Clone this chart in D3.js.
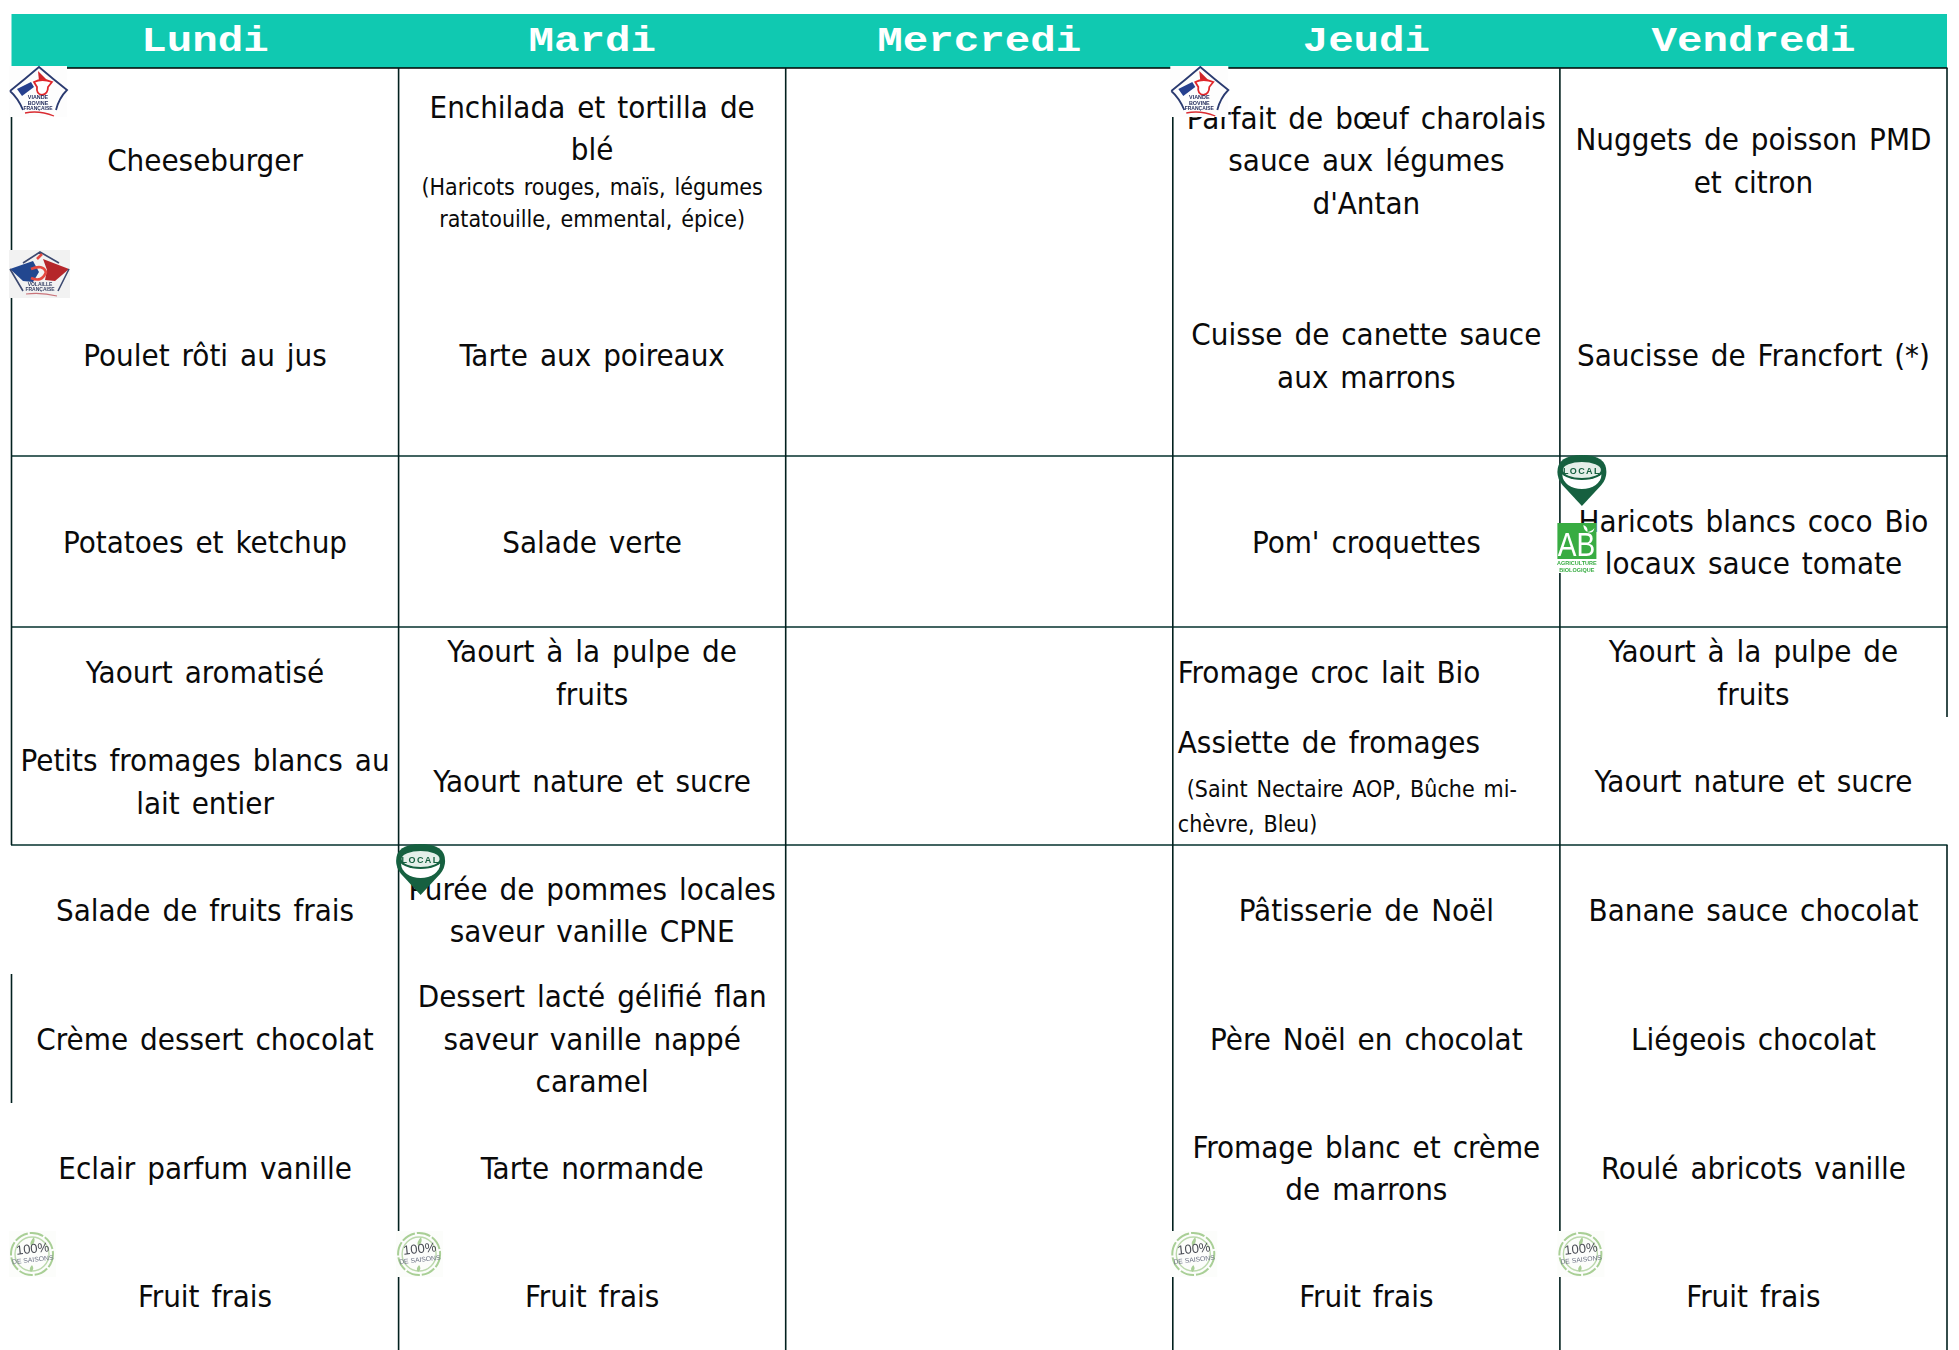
<!DOCTYPE html>
<html>
<head>
<meta charset="utf-8">
<title>Menu</title>
<script src="https://cdn.jsdelivr.net/npm/d3@7"></script>
<style>
  html, body { margin: 0; padding: 0; background: #fff; overflow: hidden; }
  svg { display: block; }
</style>
</head>
<body>
<div id="maincontent"></div>
<script>
// jours et lignes du menu
var jours = ["Lundi", "Mardi", "Mercredi", "Jeudi", "Vendredi"];
var creneaux = ["plat1", "plat2", "garniture", "laitage1", "laitage2", "dessert1", "dessert2", "dessert3", "dessert4"];

// "\n" = retour a la ligne, "|" = debut du texte en petit
var lundi = ["Cheeseburger", "Poulet rôti au jus", "Potatoes et ketchup", "Yaourt aromatisé",
  "Petits fromages blancs au\nlait entier", "Salade de fruits frais", "Crème dessert chocolat",
  "Eclair parfum vanille", "Fruit frais"];
var mardi = ["Enchilada et tortilla de\nblé|(Haricots rouges, maïs, légumes\nratatouille, emmental, épice)",
  "Tarte aux poireaux", "Salade verte", "Yaourt à la pulpe de\nfruits", "Yaourt nature et sucre",
  "Purée de pommes locales\nsaveur vanille CPNE", "Dessert lacté gélifié flan\nsaveur vanille nappé\ncaramel",
  "Tarte normande", "Fruit frais"];
var mercredi = ["", "", "", "", "", "", "", "", ""];
var jeudi = ["Parfait de bœuf charolais\nsauce aux légumes\nd'Antan", "Cuisse de canette sauce\naux marrons",
  "Pom' croquettes", "Fromage croc lait Bio",
  "Assiette de fromages|\u00a0(Saint Nectaire AOP, Bûche mi-\nchèvre, Bleu)",
  "Pâtisserie de Noël", "Père Noël en chocolat", "Fromage blanc et crème\nde marrons", "Fruit frais"];
var vendredi = ["Nuggets de poisson PMD\net citron", "Saucisse de Francfort (*)",
  "Haricots blancs coco Bio\nlocaux sauce tomate", "Yaourt à la pulpe de\nfruits", "Yaourt nature et sucre",
  "Banane sauce chocolat", "Liégeois chocolat", "Roulé abricots vanille", "Fruit frais"];

var menus = [lundi, mardi, mercredi, jeudi, vendredi];
var aGauche = ["Fromage croc lait Bio", "Assiette de fromages"];

// logos : jour, creneau, type
var logos = [
  ["Lundi", "plat1", "viande"], ["Jeudi", "plat1", "viande"], ["Lundi", "plat2", "volaille"],
  ["Vendredi", "garniture", "local"], ["Vendredi", "garniture", "bio"], ["Mardi", "dessert1", "local"],
  ["Lundi", "dessert4", "saison"], ["Mardi", "dessert4", "saison"], ["Jeudi", "dessert4", "saison"], ["Vendredi", "dessert4", "saison"]
];

var w = 1959, h = 1350;
var grand = 31, petit = 23, interGrand = 42.5, interPetit = 32.5;

var svg = d3.select("#maincontent").append("svg").attr("width", w).attr("height", h);

var defs = svg.append("defs");
defs.append("filter").attr("id", "flou").append("feGaussianBlur").attr("stdDeviation", 0.35);

// scales
var x = d3.scaleBand().domain(jours).range([11.5, 1947]);
var yHaut = d3.scaleOrdinal().domain(creneaux).range([64, 258, 456, 627, 736, 845, 974, 1103, 1232]);
var yBas = d3.scaleOrdinal().domain(creneaux).range([256, 452, 627, 717, 826, 974, 1103, 1232, 1360]);
function yMilieu(c) { return (yHaut(c) + yBas(c)) / 2; }

// entete
svg.append("rect").attr("x", 11.5).attr("y", 14).attr("width", 1935.5).attr("height", 54).attr("fill", "#10c9b1");
svg.selectAll("text.jour").data(jours).enter().append("text")
  .attr("class", "jour")
  .attr("transform", function(d) { return "translate(" + (x(d) + x.bandwidth() / 2) + ",51) scale(1.18,1)"; })
  .attr("text-anchor", "middle")
  .attr("font-family", "'Liberation Mono', monospace")
  .attr("font-weight", "bold")
  .attr("font-size", "36px")
  .attr("fill", "#fff")
  .text(function(d) { return d; });

// grille
var fin = x.range()[1];
var horizontales = [68, yHaut("garniture"), yHaut("laitage1"), yHaut("dessert1")];
svg.selectAll("line.h").data(horizontales).enter().append("line")
  .attr("class", "h")
  .attr("x1", 11).attr("x2", fin + 0.5)
  .attr("y1", function(d) { return d; }).attr("y2", function(d) { return d; })
  .attr("stroke", function(d, i) { return i == 0 ? "#000" : "#04302c"; })
  .attr("stroke-width", 1.6);

var verticales = [
  [x("Lundi"), 68, yHaut("dessert1")],
  [x("Lundi"), yHaut("dessert2"), yHaut("dessert3")],
  [x("Mardi"), 68, h],
  [x("Mercredi"), 68, h],
  [x("Jeudi"), 68, h],
  [x("Vendredi"), 68, h],
  [fin, 68, yBas("laitage1")],
  [fin, yHaut("dessert1"), h]
];
svg.selectAll("line.v").data(verticales).enter().append("line")
  .attr("class", "v")
  .attr("x1", function(d) { return d[0]; }).attr("x2", function(d) { return d[0]; })
  .attr("y1", function(d) { return d[1]; }).attr("y2", function(d) { return d[2]; })
  .attr("stroke", "#02201e")
  .attr("stroke-width", 1.6);

// plats
jours.forEach(function(jour, j) {
  menus[j].forEach(function(plat, k) {
    if (plat == "") return;
    var morceaux = plat.split("|");
    var lignes = morceaux[0].split("\n").map(function(t) { return { t: t, taille: grand, inter: interGrand, avant: 0 }; });
    var assiette = plat.indexOf("Assiette") == 0;
    if (morceaux[1]) {
      morceaux[1].split("\n").forEach(function(t, n) {
        lignes.push({ t: t, taille: petit, inter: assiette ? 35 : interPetit, avant: (assiette && n == 0) ? 8 : 0 });
      });
    }
    var total = d3.sum(lignes, function(l) { return l.inter + l.avant; });
    var gauche = aGauche.some(function(a) { return plat.indexOf(a) == 0; });
    var pos = yMilieu(creneaux[k]) - total / 2;
    lignes.forEach(function(l) {
      pos += l.avant;
      svg.append("text")
        .attr("class", "plat")
        .attr("x", gauche ? x(jour) + 5 : x(jour) + x.bandwidth() / 2)
        .attr("y", pos + l.inter / 2 + l.taille * 0.37)
        .attr("text-anchor", gauche ? "start" : "middle")
        .attr("font-family", "'DejaVu Sans Condensed', 'DejaVu Sans', sans-serif")
        .attr("font-stretch", "condensed")
        .attr("word-spacing", (l.taille * 0.1) + "px")
        .attr("font-size", l.taille + "px")
        .attr("fill", "#0a0a0a")
        .text(l.t);
      pos += l.inter;
    });
  });
});

// logos, dessines dans leur repere local
function texte(g, t, px, py, taille, couleur, poids) {
  return g.append("text").attr("x", px).attr("y", py)
    .attr("text-anchor", "middle")
    .attr("font-family", "'Liberation Sans', sans-serif")
    .attr("font-weight", poids || "bold")
    .attr("font-size", taille + "px")
    .attr("fill", couleur)
    .text(t);
}

var dessins = {
  viande: function(g) {
    g.append("rect").attr("width", 58).attr("height", 51).attr("fill", "#fdfdfd");
    g.append("path").attr("d", "M1 25 Q16 13 30 1 Q44 13 58 24 Q50 32 47 44 M1 25 Q9 32 14 44")
      .attr("fill", "none").attr("stroke", "#2b3a70").attr("stroke-width", 1.8);
    g.append("path").attr("d", "M8 23 L22 16 L25 21 L13 30 Z").attr("fill", "#27408f");
    g.append("path").attr("d", "M29 5 L38 14 L30 15 Z").attr("fill", "#d0262c");
    g.append("path").attr("d", "M25 16 Q33 12 43 16 L39 21 Q39 28 33 29 Q27 28 28 21 Z")
      .attr("fill", "#fff").attr("stroke", "#e0282c").attr("stroke-width", 1.8);
    texte(g, "VIANDE", 29, 33, 5.4, "#27305f");
    texte(g, "BOVINE", 29, 38.5, 5.4, "#27305f");
    texte(g, "FRANÇAISE", 29, 44, 5, "#27305f");
    g.append("path").attr("d", "M16 47 Q30 44 45 50").attr("fill", "none").attr("stroke", "#d92b30").attr("stroke-width", 1.3);
  },
  volaille: function(g) {
    g.append("rect").attr("width", 61).attr("height", 48).attr("fill", "#f2f2f2");
    g.append("path").attr("d", "M1 19 L24 11 L30 22 L24 32 L14 31 Z").attr("fill", "#23468f");
    g.append("path").attr("d", "M34 9 L60 19 L46 31 L36 30 L38 20 Z").attr("fill", "#b5262c");
    g.append("path").attr("d", "M1 19 L14 41 M60 19 L49 41 M14 13 L31 2 L50 13")
      .attr("fill", "none").attr("stroke", "#3d4a70").attr("stroke-width", 1.6);
    g.append("path").attr("d", "M22 19 Q34 14 37 22 Q33 33 22 28 M28 9 L33 4")
      .attr("fill", "none").attr("stroke", "#e5483f").attr("stroke-width", 2.6);
    texte(g, "VOLAILLE", 31, 36, 5, "#3a4366");
    texte(g, "FRANÇAISE", 31, 41, 5, "#3a4366");
    g.append("path").attr("d", "M17 44 Q32 42 48 46").attr("fill", "none").attr("stroke", "#c9737a").attr("stroke-width", 1.2);
  },
  local: function(g) {
    g.append("path").attr("d", "M24.5 51 L5 30 Q0 24 0 17 Q0 0 24.5 0 Q49 0 49 17 Q49 24 44 30 Z").attr("fill", "#14603f");
    g.append("ellipse").attr("cx", 24.5).attr("cy", 20).attr("rx", 19.5).attr("ry", 14).attr("fill", "#fff");
    g.append("ellipse").attr("cx", 24.5).attr("cy", 15).attr("rx", 22).attr("ry", 10).attr("fill", "#14603f");
    g.append("ellipse").attr("cx", 24.5).attr("cy", 15).attr("rx", 19).attr("ry", 8).attr("fill", "#e4efe9");
    texte(g, "LOCAL", 24.5, 18.5, 9, "#14603f").attr("letter-spacing", "1.4px");
  },
  bio: function(g) {
    g.append("rect").attr("width", 39).attr("height", 50).attr("fill", "#fff");
    g.append("rect").attr("width", 39).attr("height", 36).attr("fill", "#37ac42");
    g.append("text").attr("transform", "translate(19,33) scale(0.85,1)")
      .attr("text-anchor", "middle")
      .attr("font-family", "'Liberation Sans', sans-serif")
      .attr("font-size", "33px").attr("fill", "#fff").text("AB");
    g.append("path").attr("d", "M26 2 Q31 4 30 9 Q26 7 26 2 M30 9 Q35 8 37 5 Q36 11 30 9").attr("fill", "#fff");
    texte(g, "AGRICULTURE", 19.5, 42, 5.5, "#37ac42");
    texte(g, "BIOLOGIQUE", 19.5, 48.5, 5.5, "#37ac42");
  },
  saison: function(g) {
    g.append("rect").attr("width", 47).attr("height", 46).attr("fill", "#fcfdfb");
    g.append("circle").attr("cx", 23).attr("cy", 23).attr("r", 21).attr("fill", "none").attr("stroke", "#a9cf96").attr("stroke-width", 2).attr("stroke-dasharray", "14 2");
    g.append("circle").attr("cx", 23).attr("cy", 23).attr("r", 17).attr("fill", "none").attr("stroke", "#bcd9ad").attr("stroke-width", 1.4);
    g.append("path").attr("d", "M25 6 Q20 11 22 15 Q27 12 25 6 M23 34 Q19 38 22 41 Q26 38 23 34").attr("fill", "#a9cf96");
    texte(g, "100%", 24, 22, 13, "#4a4d55", "normal").attr("transform", "rotate(-6 24 22)");
    texte(g, "DE SAISONS", 24, 31, 6.8, "#6c7184", "normal").attr("transform", "rotate(-6 24 31)");
  }
};
var decalage = { viande: 2, volaille: -8, local: -1, bio: 67, saison: -1 };

logos.forEach(function(l) {
  var g = svg.append("g")
    .attr("class", "logo")
    .attr("filter", "url(#flou)")
    .attr("transform", "translate(" + (x(l[0]) - 2.5) + "," + (yHaut(l[1]) + decalage[l[2]]) + ")");
  dessins[l[2]](g);
});
</script>
</body>
</html>
